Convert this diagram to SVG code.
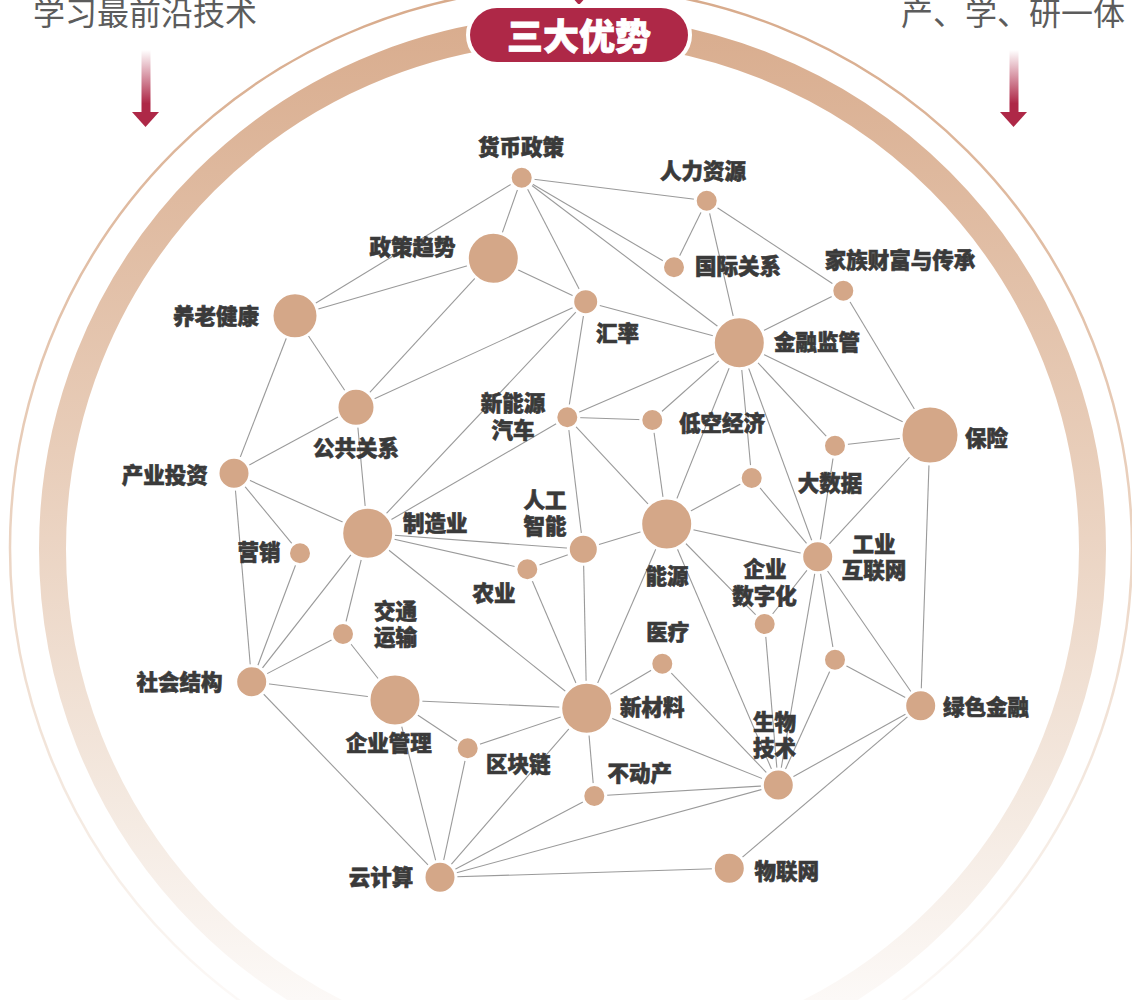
<svg xmlns="http://www.w3.org/2000/svg" width="1132" height="1000" viewBox="0 0 1132 1000">
<defs>
<linearGradient id="ringGrad" gradientUnits="userSpaceOnUse" x1="0" y1="0" x2="0" y2="1000">
<stop offset="0" stop-color="#d8ab8c"/>
<stop offset="0.45" stop-color="#e8cdb9"/>
<stop offset="0.8" stop-color="#f4e9e0"/>
<stop offset="1" stop-color="#fcf9f7"/>
</linearGradient>
<linearGradient id="arrowGrad" x1="0" y1="0" x2="0" y2="1">
<stop offset="0" stop-color="#ae2847" stop-opacity="0"/>
<stop offset="0.85" stop-color="#ae2847" stop-opacity="1"/>
</linearGradient>
<style>
.lbl{font-family:"Noto Sans CJK SC","Noto Sans",sans-serif;font-weight:900;font-size:21.5px;fill:#3a3a3a;stroke:#3a3a3a;stroke-width:0.6;dominant-baseline:central}
.top{font-family:"Noto Sans CJK SC","Noto Sans",sans-serif;font-weight:400;font-size:32px;fill:#5c5c5c}
.n{fill:#d4a788;stroke:#ffffff;stroke-width:3}
.e line{stroke:#9a9a9a;stroke-width:1.1}
.m{text-anchor:middle}
.s{text-anchor:start}
</style>
</defs>
<rect width="1132" height="1000" fill="#ffffff"/>
<circle cx="571" cy="548" r="561" fill="none" stroke="url(#ringGrad)" stroke-width="2.5"/>
<circle cx="572.5" cy="549" r="520" fill="none" stroke="url(#ringGrad)" stroke-width="27"/>
<polygon points="571,-4 587,-4 579,5" fill="#ae2847"/>
<g id="title">
<rect x="470" y="8" width="218" height="54" rx="27" fill="#ae2847" stroke="#ffffff" stroke-width="8" paint-order="stroke"/>
<text x="579" y="34" text-anchor="middle" dominant-baseline="central" font-family="'Noto Sans CJK SC','Noto Sans',sans-serif" font-weight="900" font-size="36" fill="#ffffff" stroke="#ffffff" stroke-width="0.8">三大优势</text>
</g>
<text class="top" x="33" y="25">学习最前沿技术</text>
<text class="top" x="901" y="25">产、学、研一体</text>
<g id="arrow-left">
<rect x="141.5" y="50" width="9" height="63" fill="url(#arrowGrad)"/>
<polygon points="132,112 159,112 145.5,127" fill="#ae2847"/>
</g>
<g id="arrow-right">
<rect x="1009.5" y="50" width="9" height="63" fill="url(#arrowGrad)"/>
<polygon points="1000,112 1027,112 1013.5,127" fill="#ae2847"/>
</g>
<g id="connectors" class="e">
<line x1="521.7" y1="177.7" x2="706.7" y2="200.7"/>
<line x1="521.7" y1="177.7" x2="674" y2="267.3"/>
<line x1="521.7" y1="177.7" x2="739.3" y2="342.7"/>
<line x1="521.7" y1="177.7" x2="585.7" y2="301.7"/>
<line x1="521.7" y1="177.7" x2="493.3" y2="258.3"/>
<line x1="521.7" y1="177.7" x2="295" y2="315.7"/>
<line x1="706.7" y1="200.7" x2="674" y2="267.3"/>
<line x1="706.7" y1="200.7" x2="739.3" y2="342.7"/>
<line x1="706.7" y1="200.7" x2="843.3" y2="290.7"/>
<line x1="493.3" y1="258.3" x2="295" y2="315.7"/>
<line x1="493.3" y1="258.3" x2="585.7" y2="301.7"/>
<line x1="493.3" y1="258.3" x2="356" y2="407.3"/>
<line x1="843.3" y1="290.7" x2="739.3" y2="342.7"/>
<line x1="843.3" y1="290.7" x2="930" y2="435"/>
<line x1="295" y1="315.7" x2="356" y2="407.3"/>
<line x1="295" y1="315.7" x2="234" y2="473.3"/>
<line x1="585.7" y1="301.7" x2="739.3" y2="342.7"/>
<line x1="585.7" y1="301.7" x2="356" y2="407.3"/>
<line x1="585.7" y1="301.7" x2="567.3" y2="417.3"/>
<line x1="585.7" y1="301.7" x2="367.7" y2="533.3"/>
<line x1="739.3" y1="342.7" x2="567.3" y2="417.3"/>
<line x1="739.3" y1="342.7" x2="652.3" y2="420"/>
<line x1="739.3" y1="342.7" x2="666.7" y2="524"/>
<line x1="739.3" y1="342.7" x2="751.7" y2="478"/>
<line x1="739.3" y1="342.7" x2="817.7" y2="556.7"/>
<line x1="739.3" y1="342.7" x2="835" y2="445.7"/>
<line x1="739.3" y1="342.7" x2="930" y2="435"/>
<line x1="356" y1="407.3" x2="234" y2="473.3"/>
<line x1="356" y1="407.3" x2="367.7" y2="533.3"/>
<line x1="567.3" y1="417.3" x2="652.3" y2="420"/>
<line x1="567.3" y1="417.3" x2="367.7" y2="533.3"/>
<line x1="567.3" y1="417.3" x2="583.3" y2="549.3"/>
<line x1="567.3" y1="417.3" x2="666.7" y2="524"/>
<line x1="652.3" y1="420" x2="666.7" y2="524"/>
<line x1="930" y1="435" x2="835" y2="445.7"/>
<line x1="930" y1="435" x2="817.7" y2="556.7"/>
<line x1="930" y1="435" x2="920.7" y2="705.7"/>
<line x1="835" y1="445.7" x2="817.7" y2="556.7"/>
<line x1="234" y1="473.3" x2="367.7" y2="533.3"/>
<line x1="234" y1="473.3" x2="300" y2="553.3"/>
<line x1="234" y1="473.3" x2="251.7" y2="681.7"/>
<line x1="751.7" y1="478" x2="666.7" y2="524"/>
<line x1="751.7" y1="478" x2="817.7" y2="556.7"/>
<line x1="367.7" y1="533.3" x2="583.3" y2="549.3"/>
<line x1="367.7" y1="533.3" x2="527.3" y2="569.3"/>
<line x1="367.7" y1="533.3" x2="586.7" y2="708.3"/>
<line x1="367.7" y1="533.3" x2="251.7" y2="681.7"/>
<line x1="367.7" y1="533.3" x2="343" y2="634"/>
<line x1="666.7" y1="524" x2="583.3" y2="549.3"/>
<line x1="666.7" y1="524" x2="586.7" y2="708.3"/>
<line x1="666.7" y1="524" x2="764.7" y2="624"/>
<line x1="666.7" y1="524" x2="778.3" y2="785"/>
<line x1="666.7" y1="524" x2="817.7" y2="556.7"/>
<line x1="583.3" y1="549.3" x2="527.3" y2="569.3"/>
<line x1="583.3" y1="549.3" x2="586.7" y2="708.3"/>
<line x1="300" y1="553.3" x2="251.7" y2="681.7"/>
<line x1="527.3" y1="569.3" x2="586.7" y2="708.3"/>
<line x1="817.7" y1="556.7" x2="764.7" y2="624"/>
<line x1="817.7" y1="556.7" x2="778.3" y2="785"/>
<line x1="817.7" y1="556.7" x2="835" y2="659.7"/>
<line x1="817.7" y1="556.7" x2="920.7" y2="705.7"/>
<line x1="764.7" y1="624" x2="778.3" y2="785"/>
<line x1="343" y1="634" x2="251.7" y2="681.7"/>
<line x1="343" y1="634" x2="395" y2="700"/>
<line x1="662.3" y1="663.7" x2="586.7" y2="708.3"/>
<line x1="662.3" y1="663.7" x2="778.3" y2="785"/>
<line x1="835" y1="659.7" x2="920.7" y2="705.7"/>
<line x1="835" y1="659.7" x2="778.3" y2="785"/>
<line x1="251.7" y1="681.7" x2="395" y2="700"/>
<line x1="251.7" y1="681.7" x2="440" y2="877.3"/>
<line x1="395" y1="700" x2="586.7" y2="708.3"/>
<line x1="395" y1="700" x2="467.7" y2="748.3"/>
<line x1="395" y1="700" x2="440" y2="877.3"/>
<line x1="586.7" y1="708.3" x2="467.7" y2="748.3"/>
<line x1="586.7" y1="708.3" x2="440" y2="877.3"/>
<line x1="586.7" y1="708.3" x2="778.3" y2="785"/>
<line x1="586.7" y1="708.3" x2="594.3" y2="796"/>
<line x1="920.7" y1="705.7" x2="778.3" y2="785"/>
<line x1="920.7" y1="705.7" x2="729.3" y2="868.3"/>
<line x1="467.7" y1="748.3" x2="440" y2="877.3"/>
<line x1="778.3" y1="785" x2="594.3" y2="796"/>
<line x1="778.3" y1="785" x2="440" y2="877.3"/>
<line x1="594.3" y1="796" x2="440" y2="877.3"/>
<line x1="729.3" y1="868.3" x2="440" y2="877.3"/>
</g>
<g id="node-huobi"><circle class="n" cx="521.7" cy="177.7" r="11.5"/><text class="lbl m" x="521" y="145">货币政策</text></g>
<g id="node-renli"><circle class="n" cx="706.7" cy="200.7" r="11.5"/><text class="lbl m" x="703" y="169">人力资源</text></g>
<g id="node-zhengce"><circle class="n" cx="493.3" cy="258.3" r="26"/><text class="lbl m" x="412.5" y="245">政策趋势</text></g>
<g id="node-guoji"><circle class="n" cx="674" cy="267.3" r="11.5"/><text class="lbl s" x="695" y="264">国际关系</text></g>
<g id="node-jiazu"><circle class="n" cx="843.3" cy="290.7" r="11.5"/><text class="lbl m" x="900" y="258">家族财富与传承</text></g>
<g id="node-yanglao"><circle class="n" cx="295" cy="315.7" r="23"/><text class="lbl m" x="216" y="314">养老健康</text></g>
<g id="node-huilv"><circle class="n" cx="585.7" cy="301.7" r="13"/><text class="lbl s" x="596" y="331">汇率</text></g>
<g id="node-jinrong"><circle class="n" cx="739.3" cy="342.7" r="26"/><text class="lbl s" x="774" y="340">金融监管</text></g>
<g id="node-gonggong"><circle class="n" cx="356" cy="407.3" r="19"/><text class="lbl m" x="356" y="446">公共关系</text></g>
<g id="node-xinnengyuan"><circle class="n" cx="567.3" cy="417.3" r="11.5"/><text class="lbl m" x="513" y="401">新能源</text><text class="lbl m" x="513" y="428">汽车</text></g>
<g id="node-dikong"><circle class="n" cx="652.3" cy="420" r="11.5"/><text class="lbl s" x="679" y="421">低空经济</text></g>
<g id="node-baoxian"><circle class="n" cx="930" cy="435" r="29"/><text class="lbl s" x="965" y="436">保险</text></g>
<g id="node-dashuju"><circle class="n" cx="835" cy="445.7" r="11.5"/><text class="lbl m" x="830" y="481">大数据</text></g>
<g id="node-chanye"><circle class="n" cx="234" cy="473.3" r="16"/><text class="lbl m" x="164.7" y="473">产业投资</text></g>
<g id="node-u1"><circle class="n" cx="751.7" cy="478" r="11.5"/></g>
<g id="node-zhizao"><circle class="n" cx="367.7" cy="533.3" r="26"/><text class="lbl s" x="403" y="521">制造业</text></g>
<g id="node-nengyuan"><circle class="n" cx="666.7" cy="524" r="26"/><text class="lbl m" x="667" y="574">能源</text></g>
<g id="node-ai"><circle class="n" cx="583.3" cy="549.3" r="15"/><text class="lbl m" x="545" y="498">人工</text><text class="lbl m" x="545" y="524">智能</text></g>
<g id="node-yingxiao"><circle class="n" cx="300" cy="553.3" r="11.5"/><text class="lbl m" x="259" y="550">营销</text></g>
<g id="node-nongye"><circle class="n" cx="527.3" cy="569.3" r="11.5"/><text class="lbl m" x="494" y="591">农业</text></g>
<g id="node-gongye"><circle class="n" cx="817.7" cy="556.7" r="16"/><text class="lbl m" x="874" y="542">工业</text><text class="lbl m" x="874" y="568">互联网</text></g>
<g id="node-shuzihua"><circle class="n" cx="764.7" cy="624" r="11.5"/><text class="lbl m" x="765" y="567">企业</text><text class="lbl m" x="764.5" y="594">数字化</text></g>
<g id="node-jiaotong"><circle class="n" cx="343" cy="634" r="11.5"/><text class="lbl m" x="395.5" y="609">交通</text><text class="lbl m" x="395.5" y="635">运输</text></g>
<g id="node-yiliao"><circle class="n" cx="662.3" cy="663.7" r="11.5"/><text class="lbl m" x="667.7" y="630">医疗</text></g>
<g id="node-u2"><circle class="n" cx="835" cy="659.7" r="11.5"/></g>
<g id="node-shehui"><circle class="n" cx="251.7" cy="681.7" r="16"/><text class="lbl m" x="179.5" y="680">社会结构</text></g>
<g id="node-qiyeguanli"><circle class="n" cx="395" cy="700" r="26"/><text class="lbl m" x="388.7" y="741">企业管理</text></g>
<g id="node-xincailiao"><circle class="n" cx="586.7" cy="708.3" r="26"/><text class="lbl s" x="620" y="705">新材料</text></g>
<g id="node-lvse"><circle class="n" cx="920.7" cy="705.7" r="16"/><text class="lbl s" x="943" y="705">绿色金融</text></g>
<g id="node-qukuai"><circle class="n" cx="467.7" cy="748.3" r="11.5"/><text class="lbl s" x="486" y="762">区块链</text></g>
<g id="node-shengwu"><circle class="n" cx="778.3" cy="785" r="16"/><text class="lbl m" x="774.5" y="720">生物</text><text class="lbl m" x="774.5" y="746">技术</text></g>
<g id="node-budong"><circle class="n" cx="594.3" cy="796" r="11.5"/><text class="lbl m" x="639.7" y="771">不动产</text></g>
<g id="node-wulian"><circle class="n" cx="729.3" cy="868.3" r="16"/><text class="lbl s" x="754.5" y="869">物联网</text></g>
<g id="node-yun"><circle class="n" cx="440" cy="877.3" r="16"/><text class="lbl m" x="381" y="875">云计算</text></g>
</svg>
